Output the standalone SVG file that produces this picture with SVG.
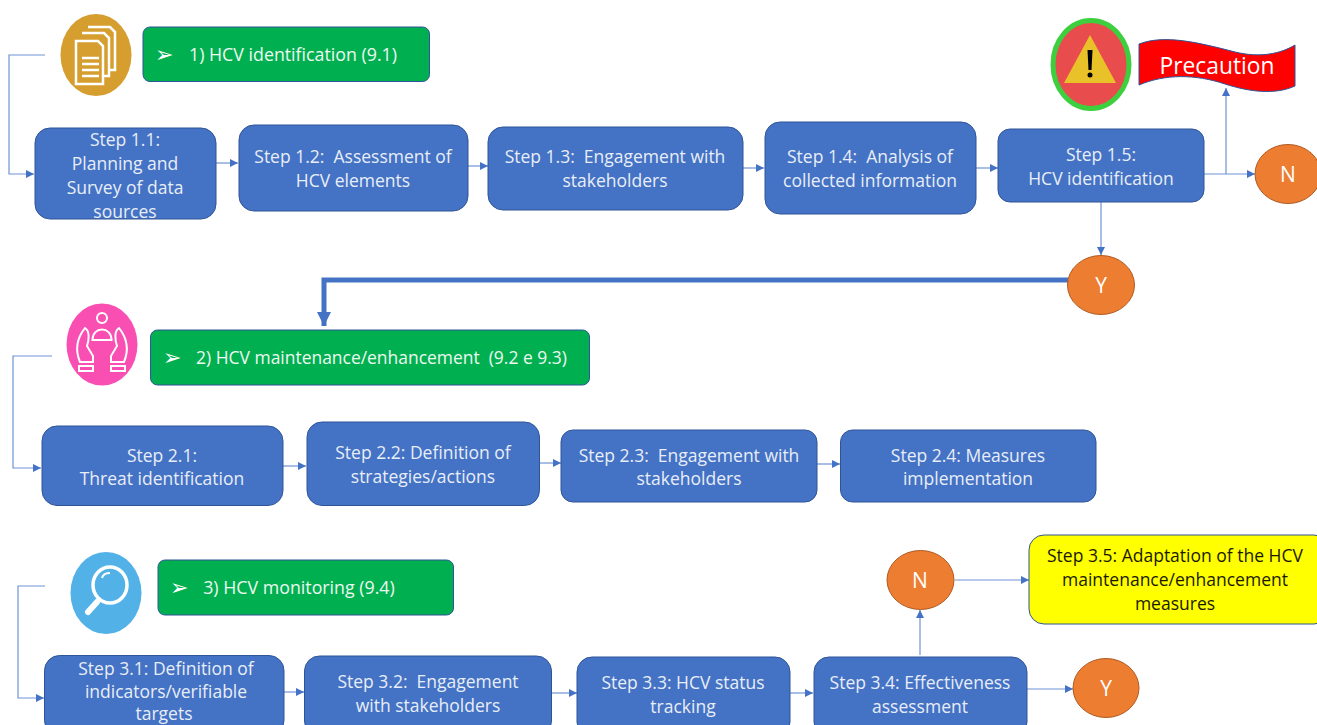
<svg xmlns="http://www.w3.org/2000/svg" width="1317" height="725" viewBox="0 0 1317 725">
<defs>
<marker id="a" markerUnits="userSpaceOnUse" markerWidth="10" markerHeight="10" refX="8" refY="4" orient="auto"><path d="M0 0L8 4L0 8Z" fill="#4472c4"/></marker>
<marker id="b" markerUnits="userSpaceOnUse" markerWidth="15" markerHeight="14" refX="14" refY="7" orient="auto"><path d="M0 0L14 7L0 14Z" fill="#4472c4"/></marker>
</defs>
<style>
text{font-family:"Open Sans","Noto Sans","Liberation Sans",sans-serif;font-size:17.5px;text-anchor:middle;fill:#e8eef8;white-space:pre}
.s rect{fill:#4472c4;stroke:#2f5597;stroke-width:1}
.s text{transform:translateY(.7px)}
.h rect{fill:#00b050;stroke:#2f5597;stroke-width:1}
.h text{font-size:17.8px;fill:#eef8f0}
.h .m{font-size:22px;fill:#fff}
.h .t{font-size:17.45px}
.c ellipse{fill:#ed7d31;stroke:#ae5a21;stroke-width:1}
.c text{font-size:21px;fill:#fff}
.l{fill:none;stroke:#6e93d6;stroke-width:1.2;marker-end:url(#a)}
.i{fill:none;stroke:#fff;stroke-width:2}
.k{fill:#1a1a00}
</style>
<rect width="1317" height="725" fill="#fff"/>
<g id="connectors">
<path class="l" d="M45 55H9V174H34"/>
<path class="l" d="M216 163H238"/>
<path class="l" d="M468 166H488"/>
<path class="l" d="M743 168H764"/>
<path class="l" d="M976 168H998"/>
<path class="l" d="M1204 174H1255"/>
<path class="l" d="M1226 174V88"/>
<path class="l" d="M1101 202V255"/>
<path d="M1068 280H324V326" fill="none" stroke="#4472c4" stroke-width="5" marker-end="url(#b)"/>
<path class="l" d="M52 356H13V468H41"/>
<path class="l" d="M283 466H306"/>
<path class="l" d="M540 463H561"/>
<path class="l" d="M817 464H840"/>
<path class="l" d="M45 586H18V698H44"/>
<path class="l" d="M284 692H304"/>
<path class="l" d="M552 693H577"/>
<path class="l" d="M790 693H813"/>
<path class="l" d="M1027 689H1073"/>
<path class="l" d="M920 655V610"/>
<path class="l" d="M955 580H1029"/>
</g>
<g id="icon1">
<ellipse cx="96" cy="55" rx="35.500" ry="41" fill="#d69e2e"/>
<path d="M88 27H110L115 32V70H109M82 33H104L109 38V76H103M76 41H98L103 46V84H76Z" fill="#d69e2e" stroke="#fff" stroke-width="2.500"/>
<path d="M82 58H99M82 64H99M82 70H99M82 76H99" stroke="#fff" stroke-width="2.500"/>
</g>
<g id="h1" class="h"><rect x="143" y="27" width="286.500" height="54.500" rx="7"/>
<text class="m" x="164" y="62">➢</text><text x="293" y="61">1) HCV identification (9.1)</text></g>
<g id="s11" class="s"><rect x="35" y="128" width="181" height="91" rx="15"/>
<text x="125" y="145">Step 1.1:</text><text x="125" y="169">Planning and</text><text x="125" y="193">Survey of data</text><text x="125" y="217">sources</text></g>
<g id="s12" class="s"><rect x="239" y="125" width="229" height="86" rx="15"/>
<text x="353" y="162">Step 1.2:  Assessment of</text><text x="353" y="186">HCV elements</text></g>
<g id="s13" class="s"><rect x="488" y="127" width="255" height="83" rx="15"/>
<text x="615" y="162">Step 1.3:  Engagement with</text><text x="615" y="186">stakeholders</text></g>
<g id="s14" class="s"><rect x="765" y="122" width="211" height="92" rx="15"/>
<text x="870" y="162">Step 1.4:  Analysis of</text><text x="870" y="186">collected information</text></g>
<g id="s15" class="s"><rect x="998" y="129" width="206" height="73" rx="12"/>
<text x="1101" y="160">Step 1.5:</text><text x="1101" y="184">HCV identification</text></g>
<g id="warn">
<ellipse cx="1091" cy="64.500" rx="38" ry="44" fill="#e84c4c" stroke="#3ecf3e" stroke-width="5"/>
<path d="M1090 35L1116 83H1064Z" fill="#e9c128"/>
<path d="M1087.500 50H1092.500L1091.500 70H1088.500Z" fill="#000"/><circle cx="1090" cy="75" r="2.500" fill="#000"/>
</g>
<g id="precaution">
<path d="M1139 44C1165 34 1200 43 1235 52C1260 58 1280 54 1295 45V86C1275 95 1250 92 1225 84C1195 74 1165 74 1139 85Z" fill="#f00" stroke="#2f5597" stroke-width="1"/>
<text x="1217" y="74" style="font-size:22.8px;fill:#fff">Precaution</text>
</g>
<g id="n1" class="c"><ellipse cx="1288" cy="174" rx="33" ry="29.500"/><text x="1288" y="182">N</text></g>
<g id="y1" class="c"><ellipse cx="1101" cy="285" rx="33.500" ry="29.500"/><text x="1101" y="293">Y</text></g>
<g id="icon2">
<ellipse cx="102" cy="344.500" rx="35.500" ry="41" fill="#fa4fb2"/>
<circle cx="102" cy="318" r="5" class="i"/>
<path d="M92.500 340C92.500 326 111.500 326 111.500 340Z" class="i"/>
<path d="M80 362C75 350 77 338 85 328C90 331 89 340 87 346L93 356V362ZM124 362C129 350 127 338 119 328C114 331 115 340 117 346L111 356V362ZM79 366H93V371H79ZM111 366H125V371H111Z" class="i"/>
</g>
<g id="h2" class="h"><rect x="150.500" y="330" width="439" height="55" rx="7"/>
<text class="m" x="172" y="365">➢</text><text class="t" x="381.500" y="364">2) HCV maintenance/enhancement  (9.2 e 9.3)</text></g>
<g id="s21" class="s"><rect x="42" y="426" width="241" height="79.500" rx="15"/>
<text x="162" y="461">Step 2.1:</text><text x="162" y="484">Threat identification</text></g>
<g id="s22" class="s"><rect x="307" y="422" width="232.500" height="83.500" rx="15"/>
<text x="423" y="458">Step 2.2: Definition of</text><text x="423" y="482">strategies/actions</text></g>
<g id="s23" class="s"><rect x="561" y="430" width="256" height="72" rx="12"/>
<text x="689" y="461">Step 2.3:  Engagement with</text><text x="689" y="484">stakeholders</text></g>
<g id="s24" class="s"><rect x="840.500" y="430" width="255.500" height="72" rx="12"/>
<text x="968" y="461">Step 2.4: Measures</text><text x="968" y="484">implementation</text></g>
<g id="icon3">
<ellipse cx="106" cy="593" rx="35.500" ry="41" fill="#52b2e7"/>
<ellipse cx="110" cy="585" rx="17" ry="18" fill="none" stroke="#fff" stroke-width="3.500"/>
<path d="M102 578C103 574 106 573 110 573" class="i"/>
<path d="M97 602L88 612" stroke="#fff" stroke-width="6" stroke-linecap="round"/>
</g>
<g id="h3" class="h"><rect x="158" y="560" width="295.500" height="55" rx="7"/>
<text class="m" x="179" y="595">➢</text><text x="299" y="594">3) HCV monitoring (9.4)</text></g>
<g id="s31" class="s"><rect x="44.500" y="655.500" width="239.500" height="80" rx="15"/>
<text x="166" y="674">Step 3.1: Definition of</text><text x="166" y="697">indicators/verifiable</text><text x="164" y="719">targets</text></g>
<g id="s32" class="s"><rect x="304.500" y="656" width="247" height="80" rx="15"/>
<text x="428" y="687">Step 3.2:  Engagement</text><text x="428" y="711">with stakeholders</text></g>
<g id="s33" class="s"><rect x="577" y="657" width="213" height="80" rx="15"/>
<text x="683" y="688">Step 3.3: HCV status</text><text x="683" y="712">tracking</text></g>
<g id="s34" class="s"><rect x="814" y="657" width="213" height="80" rx="15"/>
<text x="920" y="688">Step 3.4: Effectiveness</text><text x="920" y="712">assessment</text></g>
<g id="n3" class="c"><ellipse cx="920.500" cy="580" rx="33.500" ry="29.500"/><text x="920" y="588">N</text></g>
<g id="s35"><rect x="1029" y="535" width="300" height="89" rx="15" fill="#ff0" stroke="#2f5597"/>
<text class="k" x="1175" y="562">Step 3.5: Adaptation of the HCV</text><text class="k" x="1175" y="586">maintenance/enhancement</text><text class="k" x="1175" y="610">measures</text></g>
<g id="y3" class="c"><ellipse cx="1106" cy="688" rx="33" ry="29.500"/><text x="1106" y="696">Y</text></g>
</svg>
